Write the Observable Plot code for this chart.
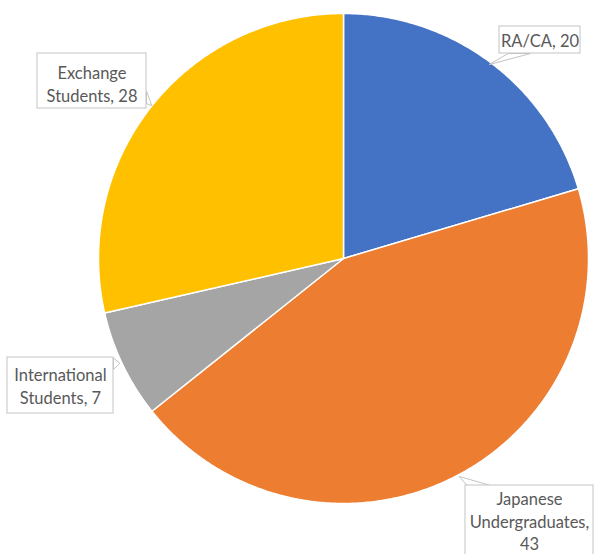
<!DOCTYPE html>
<html><head><meta charset="utf-8">
<script src="https://cdn.jsdelivr.net/npm/d3@7"></script>
<script src="https://cdn.jsdelivr.net/npm/@observablehq/plot@0.6"></script>
<style>body{margin:0;background:#fff}</style>
</head><body><div id="chart"></div>
<script>
// ---- data ----
const categories = ["RA/CA", "Japanese Undergraduates", "International Students", "Exchange Students"];
const counts = [20, 43, 7, 28];
const sliceColors = ["#4472C4", "#ED7D31", "#A5A5A5", "#FFC000"];
const labelSeparators = [", ", ",\n", ", ", ", "];

// ---- layout (pixels) ----
const W = 595, H = 554, CX = 343, CY = 258, R = 245;
const toX = px => (px - CX) / R, toY = py => (CY - py) / R;
const callouts = [
  {box: [499, 26, 580, 53], tip: [[508, 53], [530, 53], [489, 64]], text: [539.5, 39.5], lh: 1.4},
  {box: [465, 485, 593, 570], tip: [[467, 485], [490, 485], [459, 476]], text: [529, 520], lh: 1.36},
  {box: [7, 357, 113, 413], tip: [[113, 358], [113, 369], [119, 363]], text: [60, 385], lh: 1.4},
  {box: [37, 53, 146, 108], tip: [[146, 91], [146, 103], [151, 105]], text: [91.5, 83], lh: 1.4}
];

// ---- pie geometry from data ----
const arcs = d3.pie().sort(null)(counts);
const piePts = arcs.flatMap((a, i) => {
  const n = Math.max(2, Math.ceil((a.endAngle - a.startAngle) / (Math.PI / 360)));
  const pts = [{category: categories[i], x: 0, y: 0}];
  for (let k = 0; k <= n; k++) {
    const t = a.startAngle + (a.endAngle - a.startAngle) * k / n;
    pts.push({category: categories[i], x: Math.sin(t), y: Math.cos(t)});
  }
  return pts;
});

const labels = categories.map((c, i) => {
  const parts = c.split(" ");
  const name = parts.length > 1 ? parts[0] + "\n" + parts.slice(1).join(" ") : c;
  return {label: name + labelSeparators[i] + counts[i], x: toX(callouts[i].text[0]), y: toY(callouts[i].text[1]), lh: callouts[i].lh};
});
const boxes = callouts.map((c, i) => ({i, x1: toX(c.box[0]), x2: toX(c.box[2]), y1: toY(c.box[1]), y2: toY(c.box[3])}));
const tips = callouts.flatMap((c, i) => c.tip.map(p => ({i, x: toX(p[0]), y: toY(p[1])})));

const textStyle = {x: "x", y: "y", text: "label", fill: "#595959", fontSize: 16.5, fontFamily: "Lato, 'Open Sans', sans-serif"};

const chart = Plot.plot({
  width: W, height: H,
  margin: 0,
  x: {domain: [toX(0), toX(W)], range: [0, W], axis: null},
  y: {domain: [toY(H), toY(0)], range: [H, 0], axis: null},
  color: {domain: categories, range: sliceColors},
  style: {background: "#fff"},
  marks: [
    Plot.line(piePts, {x: "x", y: "y", z: "category", fill: "category", stroke: "white", strokeWidth: 1.5, curve: "linear-closed"}),
    Plot.line(tips, {x: "x", y: "y", z: "i", fill: "white", stroke: "#c4c4c4", strokeWidth: 1, curve: "linear-closed"}),
    Plot.rect(boxes, {x1: "x1", x2: "x2", y1: "y1", y2: "y2", fill: "white", stroke: "#c4c4c4", strokeWidth: 1}),
    Plot.text(labels.filter(d => d.lh === 1.4), {...textStyle, lineHeight: 1.4}),
    Plot.text(labels.filter(d => d.lh !== 1.4), {...textStyle, lineHeight: 1.36})
  ]
});
document.getElementById("chart").appendChild(chart);
</script>
</body></html>
